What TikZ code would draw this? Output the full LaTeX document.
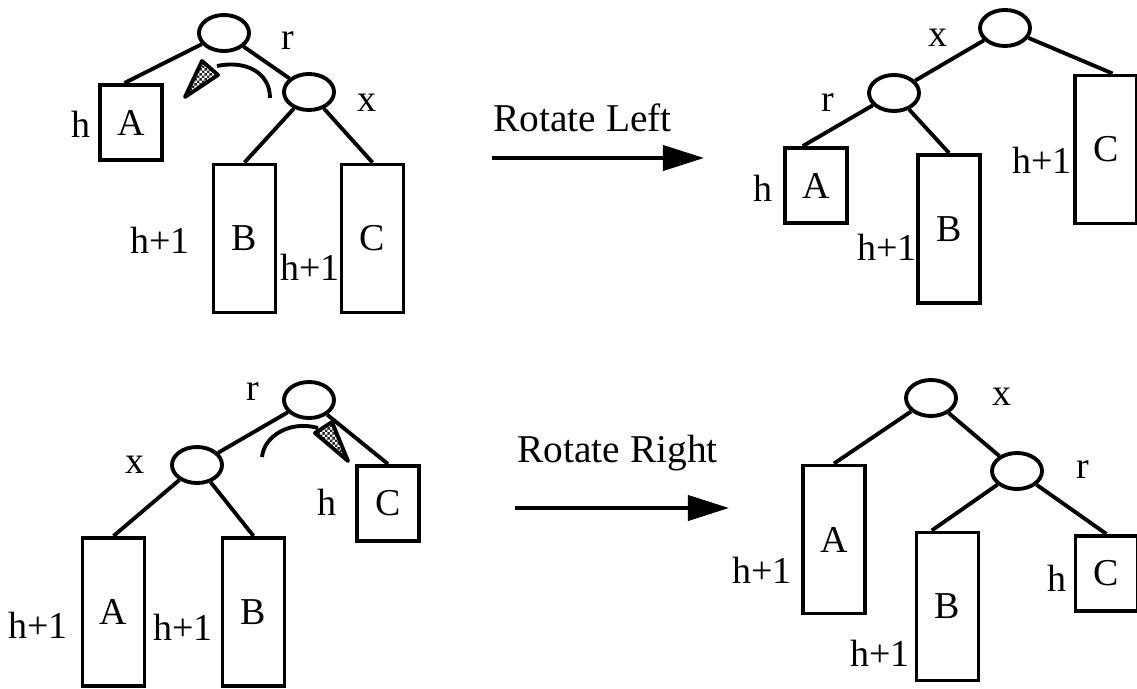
\documentclass[tikz,border=0pt]{standalone}
\usepackage{fontspec}
\setmainfont{Liberation Serif}
\usetikzlibrary{shapes.geometric, arrows.meta, patterns, calc}
\pgfdeclarepatternformonly{finecheck}{\pgfqpoint{0pt}{0pt}}{\pgfqpoint{1.4pt}{1.4pt}}{\pgfqpoint{1.4pt}{1.4pt}}{%
  \pgfpathrectangle{\pgfqpoint{0pt}{0pt}}{\pgfqpoint{0.7pt}{0.7pt}}%
  \pgfpathrectangle{\pgfqpoint{0.7pt}{0.7pt}}{\pgfqpoint{0.7pt}{0.7pt}}%
  \pgfusepath{fill}}

\begin{document}
\begin{tikzpicture}[
    x=0.01cm, y=-0.01cm,
    line width=1.1pt,
    treenode/.style={ellipse, draw, minimum width=0.5cm, minimum height=0.36cm, inner sep=0pt},
    subtree/.style={rectangle, draw, minimum width=0.62cm, minimum height=0.75cm, inner sep=0pt, font=\fontsize{10.8}{12}\selectfont},
    tallsub/.style={subtree, minimum height=1.48cm},
    lbl/.style={inner sep=0pt, font=\fontsize{10.8}{12}\selectfont},
    rotlabel/.style={inner sep=0pt, font=\fontsize{11.2}{13}\selectfont},
    arrow/.style={-{Triangle[length=0.41cm, width=0.25cm]}},
    turnhead/.style={draw, pattern=finecheck, pattern color=black!85, line join=round}
]
\useasboundingbox (0,0) rectangle (1137,688);

% Nodes -- left rotation, before
\node[treenode] (r1) at (224,33) {};
\node[treenode] (x1) at (309,92) {};
\node[subtree] (a1) at (131,122.5) {A};
\node[tallsub] (b1) at (244.5,238.5) {B};
\node[tallsub] (c1) at (372.5,238.5) {C};
\node[lbl] (r1lbl) at (288,41) {r};
\node[lbl] (x1lbl) at (367,103) {x};
\node[lbl] (a1lbl) at (81,124) {h};
\node[lbl] (b1lbl) at (160,240) {h+1};
\node[lbl] (c1lbl) at (310,267) {h+1};

% Nodes -- left rotation, after
\node[treenode] (x2) at (1005,28) {};
\node[treenode] (r2) at (894,93) {};
\node[subtree] (a2) at (816,185.5) {A};
\node[tallsub] (b2) at (949,229) {B};
\node[tallsub] (c2) at (1106,149.5) {C};
\node[lbl] (x2lbl) at (938,38) {x};
\node[lbl] (r2lbl) at (828,103) {r};
\node[lbl] (a2lbl) at (763,188) {h};
\node[lbl] (b2lbl) at (887,247) {h+1};
\node[lbl] (c2lbl) at (1042,160) {h+1};

% Nodes -- right rotation, before
\node[treenode] (r3) at (309,400) {};
\node[treenode] (x3) at (197,465) {};
\node[tallsub] (a3) at (113.5,612) {A};
\node[tallsub] (b3) at (253.5,612) {B};
\node[subtree] (c3) at (388,503.5) {C};
\node[lbl] (r3lbl) at (253,392) {r};
\node[lbl] (x3lbl) at (135,465) {x};
\node[lbl] (a3lbl) at (38,625) {h+1};
\node[lbl] (b3lbl) at (183,627) {h+1};
\node[lbl] (c3lbl) at (327,502) {h};

% Nodes -- right rotation, after
\node[treenode] (x4) at (931,398) {};
\node[treenode] (r4) at (1017,471) {};
\node[tallsub] (a4) at (834,539.5) {A};
\node[tallsub] (b4) at (947.5,606.5) {B};
\node[subtree] (c4) at (1106.5,573.5) {C};
\node[lbl] (x4lbl) at (1002,397) {x};
\node[lbl] (r4lbl) at (1083,470) {r};
\node[lbl] (a4lbl) at (762,570) {h+1};
\node[lbl] (b4lbl) at (880,653) {h+1};
\node[lbl] (c4lbl) at (1057,578) {h};

% Rotate arrows
\coordinate (rl0) at (492,158);
\coordinate (rl1) at (704,158);
\node[rotlabel] (rltext) at (582.5,118) {Rotate Left};
\coordinate (rr0) at (515,508);
\coordinate (rr1) at (729,508);
\node[rotlabel] (rrtext) at (617.5,453) {Rotate Right};

% Connections
\draw (r1) -- ($(a1.north west)!.4!(a1.north east)$);
\draw (r1) -- (x1);
\draw (x1) -- (b1.north);
\draw (x1) -- (c1.north);

\draw (x2) -- (r2);
\draw (x2) -- ($(c2.north west)!.6!(c2.north east)$);
\draw (r2) -- ($(a2.north west)!.3!(a2.north east)$);
\draw (r2) -- (b2.north);

\draw (r3) -- (x3);
\draw (r3) -- (c3.north);
\draw (x3) -- (a3.north);
\draw (x3) -- (b3.north);

\draw (x4) -- (a4.north);
\draw (x4) -- (r4);
\draw (r4) -- ($(b4.north west)!.26!(b4.north east)$);
\draw (r4) -- (c4.north);

\draw[arrow] (rl0) -- (rl1);
\draw[arrow] (rr0) -- (rr1);

% turning marks
\draw (270,98) .. controls (270,72) and (245,60) .. (217,66);
\draw[turnhead] (202,61) -- (218,75) -- (185,97) -- cycle;
\draw (262,457) .. controls (264,436) and (290,420) .. (318,428);
\draw[turnhead] (315,433) -- (332,422) -- (348,461) -- cycle;

\end{tikzpicture}
\end{document}
